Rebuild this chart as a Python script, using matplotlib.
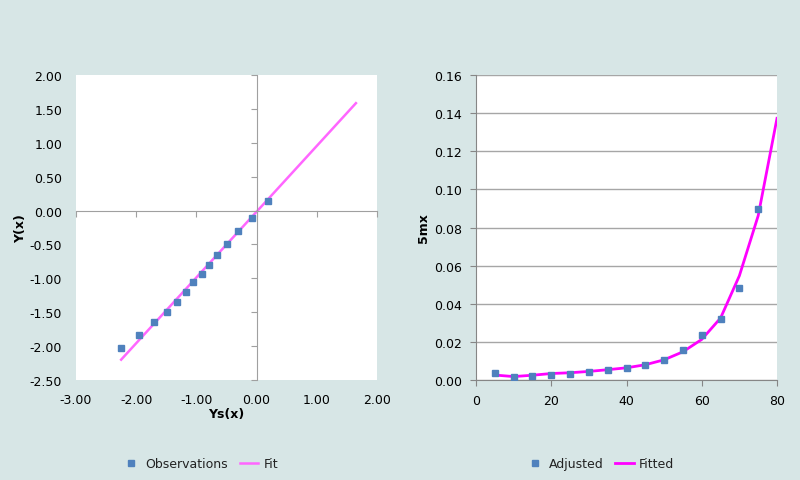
import numpy as np
import matplotlib.pyplot as plt

BG = '#d7e6e6'
BLUE = '#4f81bd'

# left chart: observations vs standard logits
obs_ys = [-2.25, -1.96, -1.71, -1.49, -1.32, -1.17, -1.05, -0.91, -0.79, -0.65, -0.49, -0.31, -0.08, 0.19]
obs_y = [-2.03, -1.84, -1.65, -1.49, -1.35, -1.20, -1.06, -0.93, -0.80, -0.66, -0.50, -0.30, -0.11, 0.14]
fit_ys = [-2.25, 1.65]
fit_y = [-2.20, 1.585]

# right chart: adjusted vs fitted 5mx
ages_adj = [5, 10, 15, 20, 25, 30, 35, 40, 45, 50, 55, 60, 65, 70, 75]
adjusted = [0.0035, 0.0016, 0.0023, 0.0028, 0.0031, 0.0044, 0.0051, 0.0063, 0.0080,
            0.0105, 0.0157, 0.0234, 0.0322, 0.0481, 0.0899]
ages_fit = [5, 10, 15, 20, 25, 30, 35, 40, 45, 50, 55, 60, 65, 70, 75, 80]
fitted = [0.0026, 0.0018, 0.0025, 0.0034, 0.0038, 0.0045, 0.0054, 0.0064, 0.0080,
          0.0106, 0.0148, 0.0213, 0.0325, 0.0547, 0.0862, 0.1373]

plt.rcParams['font.family'] = 'DejaVu Sans'
plt.rcParams['font.size'] = 9
plt.rcParams['text.color'] = '#222222'

fig = plt.figure(figsize=(8, 4.81), dpi=100)
fig.patch.set_facecolor(BG)

# ---- left chart ----
ax1 = fig.add_axes([0.095, 0.2079, 0.37625, 0.634])
ax1.set_xlim(-3, 2)
ax1.set_ylim(-2.5, 2)
ax1.plot(fit_ys, fit_y, color='#ff66ff', lw=1.8, label='Fit', zorder=2)
ax1.plot(obs_ys, obs_y, 's', color=BLUE, ms=5, label='Observations', zorder=3)
for s in ['top', 'right']:
    ax1.spines[s].set_visible(False)
# axes cross at zero, labels stay on the outer edges
ax1.spines['bottom'].set_position(('data', 0))
ax1.spines['left'].set_position(('data', 0))
ax1.spines['bottom'].set_color('#a0a0a0')
ax1.spines['left'].set_color('#a0a0a0')
ticks_x = np.arange(-3, 2.01, 1)
ticks_y = np.arange(-2.5, 2.01, 0.5)
ax1.set_xticks(ticks_x)
ax1.set_yticks(ticks_y)
ax1.tick_params(length=4, color='#a0a0a0', labelbottom=False, labelleft=False)

sx = ax1.secondary_xaxis('bottom')
sx.set_xticks(ticks_x)
sx.set_xticklabels(['%.2f' % v for v in ticks_x])
sx.tick_params(length=0, pad=9)
sx.spines['bottom'].set_visible(False)
sx.set_xlabel('Ys(x)', fontweight='bold', labelpad=1)

sy = ax1.secondary_yaxis('left')
sy.set_yticks(ticks_y)
sy.set_yticklabels(['%.2f' % v for v in ticks_y])
sy.tick_params(length=0, pad=10)
sy.spines['left'].set_visible(False)
sy.set_ylabel('Y(x)', fontweight='bold', labelpad=2)

h, l = ax1.get_legend_handles_labels()
fig.legend(h[::-1], l[::-1], loc='center', bbox_to_anchor=(0.25, 0.034), ncol=2,
           frameon=False, handlelength=1.5, handletextpad=0.4, columnspacing=0.9,
           markerscale=0.8)

# ---- right chart ----
ax2 = fig.add_axes([0.595, 0.2079, 0.37625, 0.634])
ax2.set_xlim(0, 80)
ax2.set_ylim(0, 0.16)
ax2.set_axisbelow(True)
ax2.grid(axis='y', color='#a6a6a6', lw=1)
ax2.plot(ages_fit, fitted, color='#ff00ff', lw=2.0, label='Fitted', zorder=2)
ax2.plot(ages_adj, adjusted, 's', color=BLUE, ms=5, label='Adjusted', zorder=3)
for s in ['top', 'right']:
    ax2.spines[s].set_visible(False)
ax2.spines['left'].set_color('#868686')
ax2.spines['bottom'].set_color('#868686')
ax2.set_xticks(np.arange(0, 81, 20))
ax2.set_yticks(np.arange(0, 0.161, 0.02))
ax2.yaxis.set_major_formatter(plt.FormatStrFormatter('%.2f'))
ax2.tick_params(length=4, color='#868686', pad=6)
ax2.set_ylabel('5mx', fontweight='bold', labelpad=3)

h, l = ax2.get_legend_handles_labels()
fig.legend(h[::-1], l[::-1], loc='center', bbox_to_anchor=(0.75, 0.034), ncol=2,
           frameon=False, handlelength=1.5, handletextpad=0.4, columnspacing=0.9,
           markerscale=0.8)

fig.savefig('out.png', dpi=100, facecolor=BG)
